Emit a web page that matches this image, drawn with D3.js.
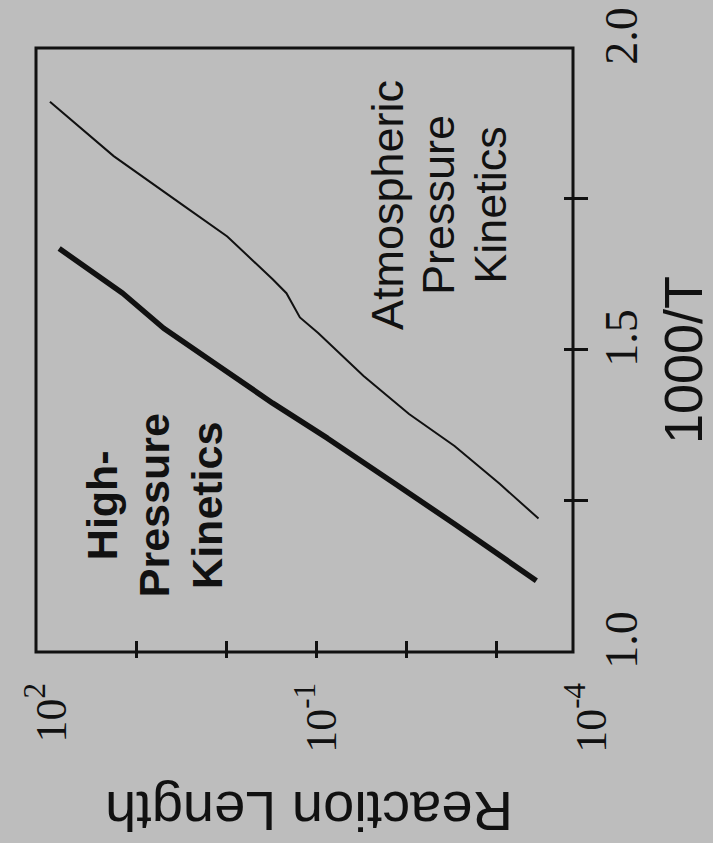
<!DOCTYPE html>
<html>
<head>
<meta charset="utf-8">
<script src="https://cdn.jsdelivr.net/npm/d3@7"></script>
<style>
  body { margin: 0; background: #bdbdbd; }
  svg { display: block; }
</style>
</head>
<body>
<svg id="chart-svg"></svg>
<script>
const width = 713
const height = 843

// the whole plot is drawn in normal orientation and then turned 90deg ccw
const plotW = 604   // 1000/T direction
const plotH = 537   // reaction length direction

// high-pressure kinetics (thick line)
const hpInvT = [1.668, 1.594, 1.536, 1.474, 1.412, 1.354, 1.278, 1.212, 1.118]
const hpLength = [71.4, 14.06, 4.93, 1.22, 0.303, 0.0748, 0.0131, 0.00289, 0.000356]

// atmospheric pressure kinetics (thin line)
const apInvT = [1.911, 1.821, 1.741, 1.688, 1.617, 1.594, 1.554, 1.528, 1.457, 1.394, 1.341, 1.278, 1.221]
const apLength = [90.4, 17.7, 3.10, 0.968, 0.303, 0.213, 0.151, 0.0946, 0.0296, 0.00925, 0.00289, 0.000904, 0.000337]

const xTickMarks = [1.25, 1.5, 1.75]
const xTickLabels = [1.0, 1.5, 2.0]
const yTickMarks = [1e1, 1e0, 1e-1, 1e-2, 1e-3]
const yTickLabels = [1e2, 1e-1, 1e-4]

const hpText = ['High-', 'Pressure', 'Kinetics']
const apText = ['Atmospheric', 'Pressure', 'Kinetics']

const svg = d3.select('svg#chart-svg').attr('width', width).attr('height', height)

svg.append('rect')
  .attr('width', width).attr('height', height)
  .attr('fill', '#bdbdbd')

const x = d3.scaleLinear().domain([1.0, 2.0]).range([0, plotW])
const y = d3.scaleLog().domain([1e-4, 1e2]).range([plotH + 13, 10])

const g = svg.append('g')
  .attr('transform', 'translate(36,652) rotate(-90)')

// frame
g.append('rect')
  .attr('width', plotW).attr('height', plotH)
  .attr('fill', 'none')
  .attr('stroke', '#111')
  .attr('stroke-width', 3)

// left axis ticks (reaction length), crossing the frame
const yAxis = g.append('g')
  .call(d3.axisLeft(y).tickValues(yTickMarks).tickSize(6).tickFormat(''))
yAxis.select('.domain').remove()
yAxis.selectAll('line')
  .attr('x1', 11)
  .attr('stroke', '#111')
  .attr('stroke-width', 3)

// bottom axis ticks (1000/T)
const xAxis = g.append('g')
  .attr('transform', `translate(0,${plotH})`)
  .call(d3.axisBottom(x).tickValues(xTickMarks).tickSize(15).tickFormat(''))
xAxis.select('.domain').remove()
xAxis.selectAll('line')
  .attr('y1', -9)
  .attr('stroke', '#111')
  .attr('stroke-width', 3)

// tick labels
g.selectAll('text.xlab').data(xTickLabels).enter().append('text')
  .attr('class', 'xlab')
  .attr('x', d => x(d) + 12)
  .attr('y', plotH + 64)
  .attr('text-anchor', 'middle')
  .attr('font-family', 'Liberation Serif, DejaVu Serif, serif')
  .attr('font-size', 46)
  .attr('fill', '#111')
  .text(d => d.toFixed(1))

const ylab = g.selectAll('text.ylab').data(yTickLabels).enter().append('text')
  .attr('class', 'ylab')
  .attr('x', -31)
  .attr('y', d => y(d) + 20)
  .attr('text-anchor', 'end')
  .attr('font-family', 'Liberation Serif, DejaVu Serif, serif')
  .attr('font-size', 44)
  .attr('fill', '#111')
ylab.append('tspan').text('10')
ylab.append('tspan')
  .attr('dy', -21)
  .attr('font-size', 31)
  .text(d => String(Math.round(Math.log10(d))))

// curves
const line = d3.line().x(d => x(d[0])).y(d => y(d[1]))

g.append('path')
  .datum(d3.zip(hpInvT, hpLength))
  .attr('d', line)
  .attr('fill', 'none')
  .attr('stroke', '#111')
  .attr('stroke-width', 5.5)
  .attr('stroke-linejoin', 'round')

g.append('path')
  .datum(d3.zip(apInvT, apLength))
  .attr('d', line)
  .attr('fill', 'none')
  .attr('stroke', '#111')
  .attr('stroke-width', 2)

// curve labels
g.append('text')
  .attr('font-family', 'Liberation Sans, Arial, sans-serif')
  .attr('font-weight', 'bold')
  .attr('font-size', 43)
  .attr('text-anchor', 'middle')
  .attr('fill', '#111')
  .selectAll('tspan').data(hpText).enter().append('tspan')
  .attr('x', x(1.243))
  .attr('y', (d, i) => y(16.3) + i * 52.5)
  .text(d => d)

g.append('text')
  .attr('font-family', 'Liberation Sans, Arial, sans-serif')
  .attr('font-size', 45)
  .attr('text-anchor', 'middle')
  .attr('fill', '#111')
  .selectAll('tspan').data(apText).enter().append('tspan')
  .attr('x', x(1.74))
  .attr('y', (d, i) => y(0.0108) + i * 51.5)
  .text(d => d)

// axis titles
g.append('text')
  .attr('x', 292)
  .attr('y', 666)
  .attr('text-anchor', 'middle')
  .attr('font-family', 'Liberation Sans, Arial, sans-serif')
  .attr('font-size', 54)
  .attr('fill', '#111')
  .text('1000/T')

g.append('text')
  .attr('transform', 'translate(-140,273) rotate(-90)')
  .attr('text-anchor', 'middle')
  .attr('font-family', 'Liberation Sans, Arial, sans-serif')
  .attr('font-size', 56)
  .attr('fill', '#111')
  .text('Reaction Length')
</script>
</body>
</html>
